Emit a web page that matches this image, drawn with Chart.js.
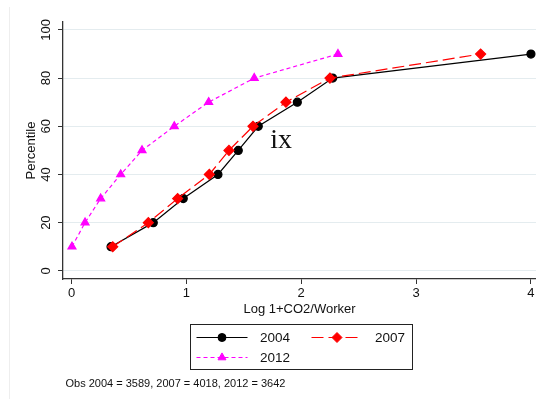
<!DOCTYPE html>
<html>
<head>
<meta charset="utf-8">
<script src="https://cdn.jsdelivr.net/npm/chart.js@4.4.1/dist/chart.umd.min.js"></script>
<style>
    body { margin: 0; background: #fff; }
    canvas { display: block; }
</style>
</head>
<body>
<canvas id="chart" width="536" height="399"></canvas>
<script>
// Percentile levels shared by all three years
const percentiles = [10, 20, 30, 40, 50, 60, 70, 80, 90];

// Log 1+CO2/Worker at each percentile
const x2004 = [0.344, 0.712, 0.973, 1.275, 1.452, 1.626, 1.966, 2.274, 4.0];
const x2007 = [0.359, 0.669, 0.924, 1.2, 1.371, 1.58, 1.867, 2.25, 3.562];
const x2012 = [0.004, 0.118, 0.254, 0.428, 0.614, 0.895, 1.194, 1.591, 2.32];

const seriesLabels = ["2004", "2007", "2012"];
const xTicks = [0, 1, 2, 3, 4];
const yTicks = [0, 20, 40, 60, 80, 100];
const noteText = "Obs 2004 = 3589, 2007 = 4018, 2012 = 3642";

const FONT = "'Liberation Sans', Arial, sans-serif";

function toPoints(xs) {
    return xs.map((x, i) => ({ x: x, y: percentiles[i] }));
}

// Legend box drawn by hand, from the dataset styles
const boxLegend = {
    id: "boxLegend",
    afterDraw(chart) {
        const ctx = chart.ctx;
        const ds = chart.data.datasets;
        const slots = [
            { lx: 196.5, ly: 337.5 },
            { lx: 311.5, ly: 337.5 },
            { lx: 196.5, ly: 357.5 }
        ];
        ctx.save();
        ctx.strokeStyle = "#222";
        ctx.lineWidth = 1;
        ctx.strokeRect(190.5, 324.5, 222, 45);

        ds.forEach((d, i) => {
            const s = slots[i];
            ctx.strokeStyle = d.borderColor;
            ctx.lineWidth = d.borderWidth;
            ctx.setLineDash(d.borderDash || []);
            ctx.beginPath();
            ctx.moveTo(s.lx, s.ly);
            ctx.lineTo(s.lx + 51, s.ly);
            ctx.stroke();
            ctx.setLineDash([]);
            ctx.fillStyle = d.pointBackgroundColor;
            ctx.strokeStyle = d.pointBorderColor;
            ctx.lineWidth = 1;
            Chart.helpers.drawPoint(ctx, {
                pointStyle: d.pointStyle,
                radius: d.pointRadius,
                borderWidth: 1,
                rotation: 0
            }, s.lx + 25.5, s.ly);

            ctx.fillStyle = "#111";
            ctx.font = "13.5px " + FONT;
            ctx.textAlign = "left";
            ctx.textBaseline = "middle";
            ctx.fillText(d.label, s.lx + 63.5, s.ly + 0.5);
        });

        // footnote
        ctx.font = "11px " + FONT;
        ctx.fillStyle = "#111";
        ctx.fillText(noteText, 65.5, 383.5);

        // stray annotation in the plot
        const xs = chart.scales.x, ys = chart.scales.y;
        ctx.font = "28px 'Liberation Serif', 'Times New Roman', serif";
        ctx.textBaseline = "alphabetic";
        ctx.fillText("ix", xs.getPixelForValue(1.73), ys.getPixelForValue(51));

        // faint frame line at the far left
        ctx.strokeStyle = "#eeeeee";
        ctx.beginPath();
        ctx.moveTo(9.5, 7);
        ctx.lineTo(9.5, 399);
        ctx.stroke();
        ctx.restore();
    }
};

const ctx = document.getElementById("chart").getContext("2d");

new Chart(ctx, {
    type: "scatter",
    data: {
        datasets: [
            {
                label: seriesLabels[0],
                data: toPoints(x2004),
                showLine: true,
                borderColor: "#000000",
                borderWidth: 1.2,
                pointStyle: "circle",
                pointRadius: 4,
                pointBackgroundColor: "#000000",
                pointBorderColor: "#000000",
                order: 1
            },
            {
                label: seriesLabels[1],
                data: toPoints(x2007),
                showLine: true,
                borderColor: "#ff0000",
                borderWidth: 1.2,
                borderDash: [12, 5],
                pointStyle: "rectRot",
                pointRadius: 5,
                pointBackgroundColor: "#ff0000",
                pointBorderColor: "#ff0000",
                order: 0
            },
            {
                label: seriesLabels[2],
                data: toPoints(x2012),
                showLine: true,
                borderColor: "#ff00ff",
                borderWidth: 1.2,
                borderDash: [4, 3],
                pointStyle: "triangle",
                pointRadius: 4.6,
                pointBackgroundColor: "#ff00ff",
                pointBorderColor: "#ff00ff",
                order: 2
            }
        ]
    },
    options: {
        responsive: false,
        animation: false,
        clip: false,
        layout: {
            autoPadding: false,
            padding: { left: 0, right: 0, top: 22, bottom: 82 }
        },
        plugins: {
            legend: { display: false },
            tooltip: { enabled: false }
        },
        scales: {
            x: {
                type: "linear",
                min: -0.074,
                max: 4.044,
                afterBuildTicks: scale => {
                    scale.ticks = xTicks.map(v => ({ value: v }));
                },
                afterFit: scale => {
                    scale.height = 38;
                    scale.paddingLeft = 0;
                    scale.paddingRight = 0;
                },
                grid: {
                    drawOnChartArea: false,
                    tickLength: 5,
                    tickColor: "#333"
                },
                border: { color: "#333", width: 1.3 },
                ticks: {
                    padding: 2,
                    color: "#111",
                    font: { family: FONT, size: 13 },
                    maxRotation: 0
                },
                title: {
                    display: true,
                    text: "Log 1+CO2/Worker",
                    color: "#111",
                    font: { family: FONT, size: 13 },
                    padding: { top: 0, bottom: 0 }
                }
            },
            y: {
                type: "linear",
                min: -3.4,
                max: 103.3,
                afterBuildTicks: scale => {
                    scale.ticks = yTicks.map(v => ({ value: v }));
                },
                afterFit: scale => {
                    scale.width = 63;
                    scale.paddingTop = 0;
                    scale.paddingBottom = 0;
                },
                grid: {
                    color: "#e4ecef",
                    tickLength: 5,
                    tickColor: "#333"
                },
                border: { color: "#333", width: 1.3 },
                ticks: {
                    padding: 1,
                    color: "#111",
                    font: { family: FONT, size: 13 },
                    minRotation: 90,
                    maxRotation: 90,
                    crossAlign: "center"
                },
                title: {
                    display: true,
                    text: "Percentile",
                    color: "#111",
                    font: { family: FONT, size: 13 },
                    padding: { top: 24, bottom: 0 }
                }
            }
        }
    },
    plugins: [boxLegend]
});
</script>
</body>
</html>
